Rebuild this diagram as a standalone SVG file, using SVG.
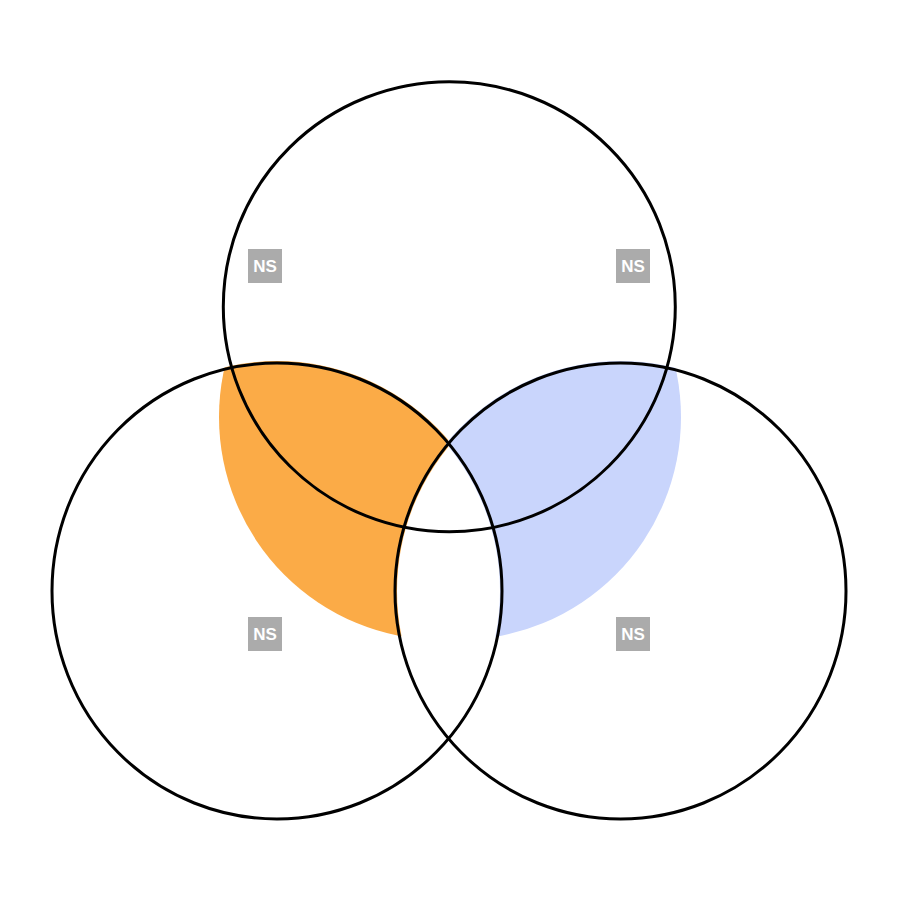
<svg xmlns="http://www.w3.org/2000/svg" width="900" height="900" viewBox="0 0 900 900">
  <style>
    .ring { fill: none; stroke: #000; stroke-width: 3; }
    .wm rect { fill: #ababab; }
    .wm text { fill: #fff; font-family: "Liberation Sans", Arial, sans-serif; font-weight: bold; font-size: 17px; text-anchor: middle; }
  </style>
  <defs>
    <clipPath id="clipL"><ellipse cx="277" cy="591" rx="227" ry="230"/></clipPath>
    <clipPath id="clipR"><ellipse cx="620.5" cy="591" rx="227.5" ry="230"/></clipPath>
    <mask id="notR" maskUnits="userSpaceOnUse" x="0" y="0" width="900" height="900">
      <rect width="900" height="900" fill="#fff"/>
      <ellipse cx="620.5" cy="591" rx="223.5" ry="226" fill="#000"/>
    </mask>
    <mask id="notL" maskUnits="userSpaceOnUse" x="0" y="0" width="900" height="900">
      <rect width="900" height="900" fill="#fff"/>
      <ellipse cx="277" cy="591" rx="223" ry="226" fill="#000"/>
    </mask>
  </defs>
  <rect width="900" height="900" fill="#fff"/>
  <g id="fills">
    <g id="orange" mask="url(#notR)">
      <circle cx="442" cy="417" r="223" fill="#fbab47" clip-path="url(#clipL)"/>
    </g>
    <g id="blue" mask="url(#notL)">
      <circle cx="458" cy="417" r="223" fill="#c9d5fc" clip-path="url(#clipR)"/>
    </g>
  </g>
  <g id="watermarks" class="wm">
    <g><rect x="248" y="249" width="34" height="34"/><text x="265" y="272">NS</text></g>
    <g><rect x="616" y="249" width="34" height="34"/><text x="633" y="272">NS</text></g>
    <g><rect x="248" y="617" width="34" height="34"/><text x="265" y="640">NS</text></g>
    <g><rect x="616" y="617" width="34" height="34"/><text x="633" y="640">NS</text></g>
  </g>
  <g id="circle-top"><ellipse class="ring" cx="449.3" cy="306.7" rx="226" ry="225"/></g>
  <g id="circle-left"><ellipse class="ring" cx="277" cy="591" rx="225" ry="228"/></g>
  <g id="circle-right"><ellipse class="ring" cx="620.5" cy="591" rx="225.5" ry="228"/></g>
</svg>
